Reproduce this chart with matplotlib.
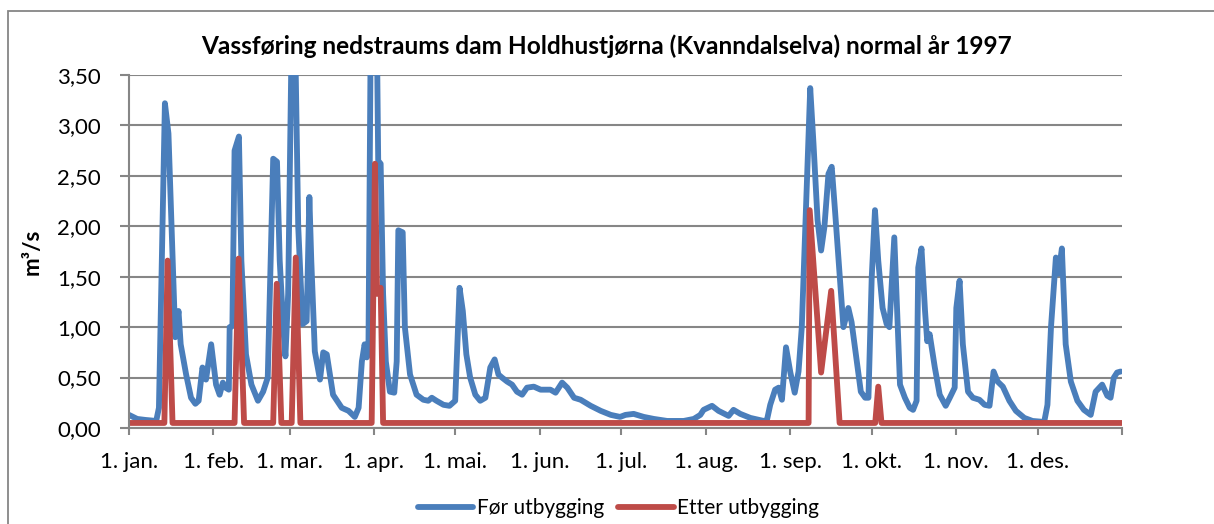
import matplotlib.pyplot as plt
from matplotlib.patches import Rectangle

plt.rcParams['font.family'] = ['Lato', 'DejaVu Sans']

# dag i året (0 = 1. jan.) og vassføring i m3/s, lese av figuren
dag_for = [0, 3, 6, 10, 11, 13.2, 14.5, 17, 18.2, 19, 21, 22.8, 24.4, 25.6, 27, 28.3,
           30.2, 32, 33.3, 34.5, 35.5, 36.7, 37, 38, 38.8, 40.4, 41.3, 43, 45, 47.4,
           49.3, 51, 53, 54.4, 55.4, 56.7, 57.5, 58.5, 60, 61, 62.2, 63.8, 65.3, 66.3,
           67, 68.3, 70.2, 71.4, 72.7, 75, 78.2, 80.7, 83, 84.4, 85.6, 86.6, 87.4, 88,
           89, 91, 91.6, 92.5, 93.4, 94.4, 95.9, 97.5, 98.4, 99, 100.6, 101.4, 103.3,
           105.7, 108.2, 110, 111.3, 113, 115.6, 117.8, 119.9, 121.5, 122.7, 124,
           125.4, 127.3, 129.1, 131, 132.8, 134.4, 135.8, 137.1, 139, 140.8, 142.6,
           144.5, 146.3, 148.8, 151.3, 154.9, 156.8, 159.2, 161.1, 163.6, 166, 169.7,
           173.4, 177.1, 180.5, 182.5, 185.5, 189.2, 192.9, 197.8, 203.9, 207.6, 210,
           211.2, 214.3, 216.7, 220.4, 222.2, 224.7, 228.4, 233.3, 234.5, 235.7,
           237.5, 238.8, 240, 241.5, 243.1, 244.7, 246.1, 247.3, 248.6, 250.4, 251.6,
           253.1, 254.4, 255.6, 257.1, 258.3, 259.5, 261.4, 262.6, 264.4, 265.6,
           267.5, 269, 270.6, 271.8, 273, 274.2, 275.4, 277, 278.5, 279.5, 281.3,
           282.1, 283.4, 285.2, 287, 288.2, 289.5, 290.1, 291.3, 292.6, 293.4, 294.3,
           296.2, 298, 300.2, 301.7, 303.5, 304.1, 305.3, 306.5, 308.4, 310.2, 312.6,
           314.5, 316.3, 317.8, 319.3, 321.2, 323.6, 326, 329.1, 332.1, 336.4, 337.6,
           338.9, 340.7, 341.7, 342.9, 344.3, 346.2, 348.6, 351, 353.5, 355.3, 357.7,
           359.6, 360.8, 362, 363.2, 364.5]
for_utbygging = [0.13, 0.09, 0.08, 0.07, 0.2, 3.22, 2.92, 0.9, 1.16, 0.83, 0.53, 0.3,
                 0.24, 0.27, 0.6, 0.48, 0.83, 0.43, 0.33, 0.45, 0.4, 0.38, 1.0, 1.01,
                 2.75, 2.89, 1.66, 0.73, 0.43, 0.27, 0.36, 0.5, 2.67, 2.64, 1.66, 1.0,
                 0.71, 1.33, 4.3, 4.0, 2.0, 1.03, 1.06, 2.29, 1.66, 0.76, 0.48, 0.75,
                 0.73, 0.33, 0.2, 0.17, 0.11, 0.2, 0.66, 0.83, 0.7, 0.73, 4.5, 4.2,
                 2.65, 2.62, 1.33, 0.66, 0.36, 0.35, 0.66, 1.96, 1.94, 1.0, 0.53, 0.33,
                 0.28, 0.27, 0.3, 0.27, 0.23, 0.22, 0.27, 1.39, 1.16, 0.73, 0.5, 0.33,
                 0.27, 0.3, 0.6, 0.68, 0.53, 0.5, 0.46, 0.43, 0.36, 0.33, 0.4, 0.41,
                 0.38, 0.38, 0.35, 0.45, 0.4, 0.3, 0.28, 0.22, 0.17, 0.13, 0.11, 0.13,
                 0.14, 0.11, 0.09, 0.07, 0.07, 0.09, 0.13, 0.18, 0.22, 0.17, 0.12,
                 0.18, 0.14, 0.1, 0.07, 0.08, 0.23, 0.38, 0.4, 0.28, 0.8, 0.55, 0.35,
                 0.56, 1.0, 1.99, 3.37, 2.82, 2.06, 1.76, 1.99, 2.52, 2.59, 2.16, 1.45,
                 1.0, 1.19, 1.05, 0.66, 0.36, 0.3, 0.3, 1.49, 2.16, 1.66, 1.19, 1.03,
                 1.0, 1.89, 1.33, 0.43, 0.3, 0.2, 0.18, 0.27, 1.59, 1.78, 1.16, 0.86,
                 0.93, 0.6, 0.33, 0.22, 0.3, 0.4, 1.19, 1.46, 0.83, 0.36, 0.3, 0.28,
                 0.23, 0.22, 0.56, 0.46, 0.41, 0.27, 0.17, 0.1, 0.07, 0.06, 0.23, 1.0,
                 1.69, 1.53, 1.78, 0.83, 0.46, 0.27, 0.18, 0.13, 0.36, 0.43, 0.32, 0.3,
                 0.5, 0.55, 0.56]

dag_etter = [0, 13, 14.2, 16, 38.8, 40.3, 42.3, 53, 54.3, 56, 59.8, 61.3, 63, 89.2,
             90.4, 91.2, 92.5, 93.4, 249.8, 250.2, 254.4, 258.1, 261.2, 274.3, 275.4,
             276.6, 365]
etter_utbygging = [0.05, 0.05, 1.66, 0.05, 0.05, 1.68, 0.05, 0.05, 1.43, 0.05, 0.05,
                   1.69, 0.05, 0.05, 2.62, 1.33, 1.39, 0.05, 0.05, 2.16, 0.55, 1.36,
                   0.05, 0.05, 0.41, 0.05, 0.05]

maanad_dag = [0, 31, 59, 90, 120, 151, 181, 212, 243, 273, 304, 334, 365]
maanad_namn = ['1. jan.', '1. feb.', '1. mar.', '1. apr.', '1. mai.', '1. jun.',
               '1. jul.', '1. aug.', '1. sep.', '1. okt.', '1. nov.', '1. des.', '']
y_verdiar = [0, 0.5, 1.0, 1.5, 2.0, 2.5, 3.0, 3.5]

blaa = '#4a7ebb'
raud = '#be4b48'
graa = '#868686'

fig = plt.figure(figsize=(12.14, 5.24), dpi=100)
ax = fig.add_axes([129 / 1214, 1 - 428 / 524, 993 / 1214, 353 / 524])

# ramme rundt diagrammet (berre venstre og topp synleg)
fig.patches.append(Rectangle((7.5 / 1214, -0.1), 1.2, 1 - 10.5 / 524 + 0.1,
                             transform=fig.transFigure, fill=False,
                             edgecolor=graa, linewidth=1.3))

ax.plot(dag_for, for_utbygging, color=blaa, lw=4.2, label='Før utbygging',
        solid_joinstyle='round', solid_capstyle='round')
ax.plot(dag_etter, etter_utbygging, color=raud, lw=4.2, label='Etter utbygging',
        solid_joinstyle='round', solid_capstyle='round')

ax.set_xlim(0, 365)
ax.set_ylim(0, 3.5)
ax.set_xticks(maanad_dag)
ax.set_xticklabels(maanad_namn)
ax.set_yticks(y_verdiar)
ax.set_yticklabels([f'{v:.2f}'.replace('.', ',') for v in y_verdiar])
ax.grid(axis='y', color=graa, lw=1.5)
ax.set_axisbelow(True)
for s in ['top', 'right']:
    ax.spines[s].set_visible(False)
for s in ['left', 'bottom']:
    ax.spines[s].set_color(graa)
    ax.spines[s].set_linewidth(1.5)
ax.tick_params(axis='both', colors=graa, labelcolor='black', labelsize=16, width=1.5)
ax.tick_params(axis='y', length=6.5, pad=13.5)
ax.tick_params(axis='x', length=5, pad=12)

ax.set_ylabel('m³/s', fontsize=16, fontweight='bold')
ax.yaxis.set_label_coords(-0.087, 0.5)
fig.text(0.5, 1 - 54 / 524, 'Vassføring nedstraums dam Holdhustjørna (Kvanndalselva) normal år 1997',
         ha='center', va='baseline', fontsize=17.6, fontweight='bold')

fig.legend(loc='center', bbox_to_anchor=(0.5095, 1 - 508 / 524), ncol=2, frameon=False,
           fontsize=15, handlelength=2.65, columnspacing=0.7, handletextpad=0.15)

fig.savefig('out.png', dpi=100)
